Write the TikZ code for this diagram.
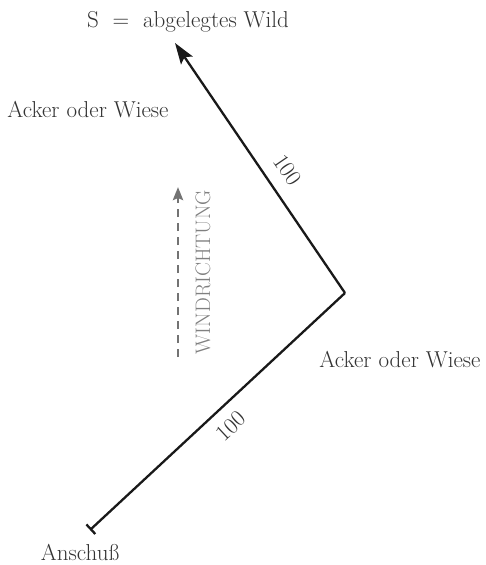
\documentclass[tikz,border=0pt]{standalone}
\usetikzlibrary{arrows.meta}
\begin{document}
\begin{tikzpicture}[x=1pt,y=-1pt,
  lbl/.style={text=black!80, font=\fontsize{23}{26}\selectfont, inner sep=0pt},
  wind/.style={text=black!50, font=\fontsize{21}{24}\selectfont, inner sep=0pt},
  path/.style={draw=black!90, line width=2.3pt}]
\useasboundingbox (0,0) rectangle (485,565);
\coordinate (start) at (90,530);
\coordinate (corner) at (345,293);
\coordinate (goal) at (175,43);
\coordinate (wbot) at (178,357);
\coordinate (wtop) at (178,187);
\node[lbl, anchor=base] (title) at (188,27) {S\ \ =\ \ abgelegtes Wild};
\node[lbl, anchor=base] (field1) at (88,117) {Acker oder Wiese};
\node[lbl, anchor=base] (field2) at (400,367) {Acker oder Wiese};
\node[lbl, anchor=base] (anschuss) at (80,560) {Anschuß};
\node[lbl, rotate=-55.6] (d2) at (288,170) {100};
\node[lbl, rotate=43] (d1) at (231,426) {100};
\node[wind, rotate=90] (wtext) at (203,272) {WINDRICHTUNG};
\draw[path, {Bar[width=13pt]}-] (start) -- (corner);
\draw[path, -{Stealth[length=21pt,width=14pt,inset=4pt]}] (corner) -- (goal);
\draw[draw=black!55, line width=2.8pt, dash pattern=on 8pt off 6pt, -{Stealth[length=13pt,width=10pt,inset=2pt]}] (wbot) -- (wtop);
\end{tikzpicture}
\end{document}
